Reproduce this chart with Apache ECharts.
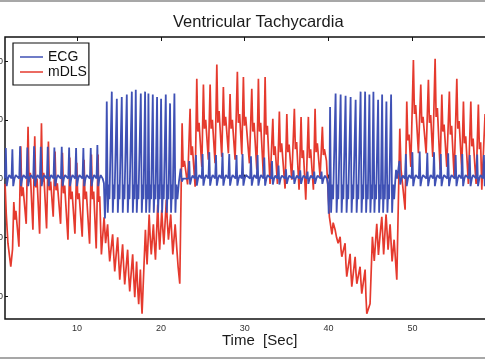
<!DOCTYPE html>
<html>
<head>
<meta charset="utf-8">
<script src="https://cdn.jsdelivr.net/npm/echarts@6/dist/echarts.min.js"></script>
<style>
html,body{margin:0;padding:0;background:#fff;}
#chart{width:485px;height:360px;}
</style>
</head>
<body>
<div id="chart"></div>
<script>
// ---- data ----
const chartTitle = 'Ventricular Tachycardia';
const xAxisTitle = 'Time  [Sec]';
const seriesNames = ['ECG', 'mDLS'];
const xTicks = [10, 20, 30, 40, 50];
const yTicks = [-200, -100, 0, 100, 200];

// ECG trace: [time (s), amplitude]
const ecg = [
[1.40,0],[1.50,52],[1.60,-13],[1.75,0],[1.90,6],
[2.18,0],[2.28,50],[2.38,-13],[2.53,0],[2.68,6],
[3.10,0],[3.20,55],[3.30,-13],[3.45,0],[3.60,6],
[3.97,0],[4.07,53],[4.17,-13],[4.32,0],[4.47,6],
[4.77,0],[4.87,55],[4.97,-13],[5.12,0],[5.27,6],
[5.57,0],[5.67,54],[5.77,-13],[5.92,0],[6.07,6],
[6.40,0],[6.50,54],[6.60,-13],[6.75,0],[6.90,6],
[7.19,0],[7.29,53],[7.39,-13],[7.54,0],[7.69,6],
[8.07,0],[8.17,54],[8.27,-13],[8.42,0],[8.57,6],
[8.95,0],[9.05,53],[9.15,-13],[9.30,0],[9.45,6],
[9.78,0],[9.88,52],[9.98,-13],[10.13,0],[10.28,6],
[10.65,0],[10.75,52],[10.85,-13],[11.00,0],[11.15,6],
[11.53,0],[11.63,52],[11.73,-13],[11.88,0],[12.03,6],
[12.32,0],[12.42,57],[12.52,-13],[12.67,0],[12.82,6],
[13.05,0],[13.20,-8],[13.32,-68],[13.44,-20],
[13.54,131],[13.66,-58],[13.78,-10],[13.86,-35],
[14.14,148],[14.26,-58],[14.38,-10],[14.46,-35],
[14.74,136],[14.86,-58],[14.98,-10],[15.06,-35],
[15.33,139],[15.45,-58],[15.57,-10],[15.65,-35],
[15.93,143],[16.05,-58],[16.17,-10],[16.25,-35],
[16.53,148],[16.65,-58],[16.77,-10],[16.85,-35],
[17.00,151],[17.12,-58],[17.24,-10],[17.32,-35],
[17.60,145],[17.72,-58],[17.84,-10],[17.92,-35],
[18.11,148],[18.23,-58],[18.35,-10],[18.43,-35],
[18.51,145],[18.63,-58],[18.75,-10],[18.83,-35],
[19.03,143],[19.15,-58],[19.27,-10],[19.35,-35],
[19.54,139],[19.66,-58],[19.78,-10],[19.86,-35],
[20.02,136],[20.14,-58],[20.26,-10],[20.34,-35],
[20.58,143],[20.70,-58],[20.82,-10],[20.90,-35],
[21.09,128],[21.21,-58],[21.33,-10],[21.41,-35],
[21.61,145],[21.73,-58],[21.85,-10],[21.97,-35],
[22.15,-5],[22.35,17],[22.50,-5],[22.65,0],
[23.28,0],[23.38,30],[23.48,-10],[23.63,0],[23.78,5],
[24.08,0],[24.18,40],[24.28,-12],[24.43,0],[24.58,6],
[24.87,0],[24.97,42],[25.07,-12],[25.22,0],[25.37,6],
[25.67,0],[25.77,45],[25.87,-12],[26.02,0],[26.17,6],
[26.47,0],[26.57,40],[26.67,-12],[26.82,0],[26.97,6],
[27.25,0],[27.35,44],[27.45,-12],[27.60,0],[27.75,6],
[28.05,0],[28.15,42],[28.25,-12],[28.40,0],[28.55,6],
[28.92,0],[29.02,40],[29.12,-12],[29.27,0],[29.42,6],
[29.64,0],[29.74,42],[29.84,-12],[29.99,0],[30.14,6],
[30.64,0],[30.74,38],[30.84,-12],[30.99,0],[31.14,6],
[31.43,0],[31.53,40],[31.63,-12],[31.78,0],[31.93,6],
[32.23,0],[32.33,36],[32.43,-12],[32.58,0],[32.73,6],
[33.15,0],[33.25,30],[33.35,-10],[33.50,0],[33.65,5],
[33.93,0],[34.03,22],[34.13,-10],[34.28,0],[34.43,5],
[34.82,0],[34.92,16],[35.02,-9],[35.17,0],[35.32,5],
[35.72,0],[35.82,14],[35.92,-9],[36.07,0],[36.22,5],
[36.52,0],[36.62,14],[36.72,-9],[36.87,0],[37.02,5],
[37.39,0],[37.49,12],[37.59,-9],[37.74,0],[37.89,5],
[38.19,0],[38.29,12],[38.39,-9],[38.54,0],[38.69,5],
[39.06,0],[39.16,12],[39.26,-9],[39.41,0],[39.56,5],
[39.80,0],[39.92,-10],[40.02,-60],[40.10,-20],
[40.18,122],[40.30,-58],[40.42,-10],[40.54,-35],
[40.84,145],[40.96,-58],[41.08,-10],[41.16,-35],
[41.44,143],[41.56,-58],[41.68,-10],[41.76,-35],
[42.03,141],[42.15,-58],[42.27,-10],[42.35,-35],
[42.63,139],[42.75,-58],[42.87,-10],[42.95,-35],
[43.23,134],[43.35,-58],[43.47,-10],[43.55,-35],
[43.82,148],[43.94,-58],[44.06,-10],[44.14,-35],
[44.36,148],[44.48,-58],[44.60,-10],[44.68,-35],
[44.87,143],[44.99,-58],[45.11,-10],[45.19,-35],
[45.35,148],[45.47,-58],[45.59,-10],[45.67,-35],
[45.91,134],[46.03,-58],[46.15,-10],[46.23,-35],
[46.39,143],[46.51,-58],[46.63,-10],[46.71,-35],
[46.90,131],[47.02,-58],[47.14,-10],[47.22,-35],
[47.46,143],[47.58,-58],[47.70,-10],[47.82,-35],
[47.95,-5],[48.05,15],[48.18,0],
[48.35,0],[48.45,30],[48.55,-10],[48.70,0],[48.85,5],
[49.12,0],[49.22,42],[49.32,-13],[49.47,0],[49.62,6],
[49.90,0],[50.00,45],[50.10,-13],[50.25,0],[50.40,6],
[50.77,0],[50.87,46],[50.97,-13],[51.12,0],[51.27,6],
[51.68,0],[51.78,44],[51.88,-13],[52.03,0],[52.18,6],
[52.48,0],[52.58,45],[52.68,-13],[52.83,0],[52.98,6],
[53.28,0],[53.38,42],[53.48,-13],[53.63,0],[53.78,6],
[54.17,0],[54.27,43],[54.37,-13],[54.52,0],[54.67,6],
[55.06,0],[55.16,40],[55.26,-13],[55.41,0],[55.56,6],
[55.85,0],[55.95,42],[56.05,-13],[56.20,0],[56.35,6],
[56.74,0],[56.84,40],[56.94,-13],[57.09,0],[57.24,6],
[57.63,0],[57.73,41],[57.83,-13],[57.98,0],[58.13,6],
[58.43,0],[58.53,40],[58.63,-13],[58.75,0],[58.90,0]
];

// mDLS trace: [time (s), amplitude]
const mdls = [
[1.41,-9],[1.55,-60],[1.75,-110],[2.09,-150],[2.30,-120],[2.45,-40],[2.58,-70],[2.70,-55],[3.06,-116],
[3.28,55],[3.40,-30],[3.55,-15],[3.93,-77],
[4.15,88],[4.27,-5],[4.42,10],[4.73,-87],
[4.95,72],[5.07,-15],[5.22,0],[5.53,-94],
[5.75,94],[5.87,-5],[6.02,10],[6.36,-85],
[6.58,63],[6.70,-20],[6.85,-5],[7.15,-65],
[7.37,46],[7.49,-20],[7.64,-8],[8.03,-77],
[8.25,44],[8.37,-25],[8.52,-12],[8.91,-104],
[9.13,36],[9.25,-35],[9.40,-22],[9.74,-94],
[9.96,27],[10.08,-35],[10.23,-25],[10.61,-99],
[10.83,32],[10.95,-35],[11.10,-22],[11.49,-111],
[11.71,41],[11.83,-35],[11.98,-22],[12.28,-119],
[12.50,41],[12.60,-40],[12.70,-30],[12.90,-129],
[13.22,-66],[13.40,-110],
[13.64,-78],[13.77,-115],[13.89,-141],
[14.24,-95],[14.37,-130],[14.49,-158],
[14.84,-100],[14.97,-140],[15.09,-172],
[15.43,-112],[15.56,-150],[15.68,-180],
[16.03,-121],[16.16,-165],[16.28,-192],
[16.63,-129],[16.76,-170],[16.88,-202],
[17.10,-141],[17.22,-185],[17.35,-214],
[17.55,-155],[17.65,-200],[17.75,-230],
[18.15,-87],[18.25,-120],[18.35,-146],
[18.60,-61],[18.72,-100],[18.85,-129],
[19.10,-78],[19.22,-110],[19.35,-138],
[19.62,-44],[19.74,-90],[19.85,-121],
[20.10,-53],[20.22,-85],[20.35,-112],
[20.65,-36],[20.77,-75],[20.90,-104],
[21.17,-61],[21.29,-95],[21.42,-129],
[21.70,-78],[21.90,-120],[22.05,-150],[22.25,-179],
[22.53,94],[22.65,20],[22.80,30],[23.18,-10],
[23.48,119],[23.60,40],[23.75,55],[24.08,-14],
[24.28,170],[24.40,80],[24.55,95],[24.88,20],
[25.07,160],[25.19,85],[25.34,100],[25.66,32],
[25.87,160],[25.99,85],[26.14,100],[26.46,26],
[26.67,194],[26.79,95],[26.94,115],[27.26,37],
[27.45,156],[27.57,90],[27.72,105],[28.05,43],
[28.25,144],[28.37,85],[28.52,100],[28.85,32],
[29.12,182],[29.24,95],[29.39,110],[29.65,41],
[29.84,173],[29.96,90],[30.11,105],[30.56,26],
[30.84,153],[30.96,80],[31.11,95],[31.44,15],
[31.63,170],[31.75,80],[31.90,95],[32.23,3],
[32.43,173],[32.55,75],[32.70,90],[33.02,-9],
[33.35,102],[33.47,40],[33.62,55],[33.90,-9],
[34.13,114],[34.25,45],[34.40,60],[34.81,-17],
[35.02,110],[35.14,45],[35.29,58],[35.61,-2],
[35.92,119],[36.04,50],[36.19,62],[36.48,-19],
[36.72,105],[36.84,35],[36.99,48],[37.28,-36],
[37.59,105],[37.71,35],[37.86,50],[38.19,-19],
[38.39,119],[38.51,45],[38.66,60],[38.99,3],
[39.26,88],[39.38,40],[39.50,50],[39.75,30],[40.10,-65],
[40.40,-95],[40.55,-75],
[40.78,-87],[40.95,-100],[41.14,-110],
[41.38,-99],[41.48,-120],[41.58,-133],
[41.97,-110],[42.07,-145],[42.17,-167],
[42.57,-128],[42.67,-160],[42.77,-184],
[43.17,-133],[43.27,-160],[43.37,-179],
[43.76,-150],[43.86,-175],[43.96,-196],
[44.36,-155],[44.46,-200],[44.56,-230],
[44.95,-213],[45.23,-99],[45.45,-140],
[45.75,-77],[45.95,-130],[46.15,-95],
[46.35,-65],[46.57,-129],[46.86,-61],
[47.10,-121],[47.34,-78],[47.58,-141],
[47.82,-104],[48.14,-172],
[48.50,85],[48.65,15],[48.90,-20],[49.13,-53],
[49.33,131],[49.45,65],[49.60,75],[49.81,20],
[50.12,202],[50.24,110],[50.39,125],[50.72,43],
[51.00,160],[51.12,95],[51.27,105],[51.64,43],
[51.91,168],[52.03,95],[52.18,108],[52.43,37],
[52.71,204],[52.83,105],[52.98,120],[53.31,15],
[53.51,143],[53.63,80],[53.78,92],[54.10,20],
[54.41,148],[54.53,75],[54.68,90],[54.98,3],
[55.30,170],[55.42,85],[55.57,98],[55.89,15],
[56.09,131],[56.21,60],[56.36,72],[56.68,-9],
[56.97,131],[57.09,55],[57.24,68],[57.60,-9],
[57.87,126],[57.99,50],[58.14,62],[58.28,-19],
[58.67,110]
];

// ---- chart ----
const FONT = '"Liberation Sans", Arial, Helvetica, sans-serif';
const chart = echarts.init(document.getElementById('chart'), null, {renderer: 'canvas'});
chart.setOption({
  animation: false,
  backgroundColor: '#ffffff',
  grid: {
    left: 5, right: -2, top: 37, bottom: 41,
    containLabel: false,
    outerBoundsMode: 'none',
    show: true, borderColor: '#111', borderWidth: 1.5, backgroundColor: 'transparent'
  },
  legend: {
    data: seriesNames,
    orient: 'vertical',
    left: 13, top: 43,
    padding: [7, 2, 6, 7],
    itemGap: 1,
    icon: 'rect',
    itemWidth: 23, itemHeight: 1.5,
    backgroundColor: '#fff',
    borderColor: '#111', borderWidth: 1.2,
    textStyle: {fontSize: 14, color: '#111', fontFamily: FONT}
  },
  xAxis: [{
    type: 'value', min: 1.4, max: 58.9, position: 'bottom',
    axisLine: {show: false},
    splitLine: {show: false},
    axisTick: {show: true, inside: true, length: 4, customValues: xTicks, lineStyle: {color: '#111'}},
    axisLabel: {customValues: xTicks, fontSize: 9, color: '#333', margin: 5, fontFamily: FONT}
  }, {
    type: 'value', min: 1.4, max: 58.9, position: 'top',
    axisLine: {show: false},
    splitLine: {show: false},
    axisTick: {show: true, inside: true, length: 4, customValues: xTicks, lineStyle: {color: '#111'}},
    axisLabel: {show: false}
  }],
  yAxis: {
    type: 'value', min: -239, max: 241,
    axisLine: {show: false},
    splitLine: {show: false},
    axisTick: {show: true, inside: true, length: 3, customValues: yTicks, lineStyle: {color: '#111'}},
    axisLabel: {customValues: yTicks, fontSize: 9, color: '#333', margin: 2, fontFamily: FONT}
  },
  graphic: [
    {type: 'line', shape: {x1: 0, y1: 1, x2: 485, y2: 1}, style: {stroke: '#8a8a8a', lineWidth: 1.5}},
    {type: 'line', shape: {x1: 0, y1: 358, x2: 485, y2: 358}, style: {stroke: '#8a8a8a', lineWidth: 1.5}},
    {type: 'text', left: 173, top: 14, style: {text: chartTitle, fontSize: 16.5, fill: '#1a1a1a', fontFamily: FONT}},
    {type: 'text', left: 222, top: 333, style: {text: xAxisTitle, fontSize: 15, fill: '#1a1a1a', fontFamily: FONT}}
  ],
  series: [{
    name: seriesNames[0], type: 'line', data: ecg, xAxisIndex: 0,
    symbol: 'none', showSymbol: false, z: 4,
    lineStyle: {color: '#3f51b5', width: 1.8},
    itemStyle: {color: '#3f51b5'}
  }, {
    name: seriesNames[1], type: 'line', data: mdls, xAxisIndex: 0,
    symbol: 'none', showSymbol: false, z: 3,
    lineStyle: {color: '#e53a2e', width: 1.7},
    itemStyle: {color: '#e53a2e'}
  }]
});
</script>
</body>
</html>
